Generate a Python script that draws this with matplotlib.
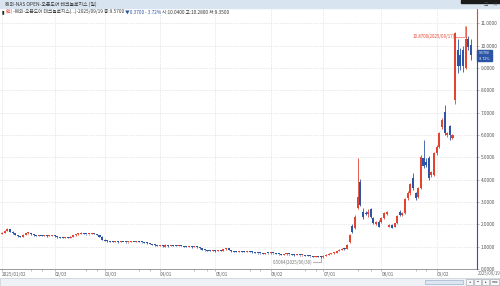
import numpy as np
import pandas as pd
import matplotlib
matplotlib.use("Agg")
import matplotlib.pyplot as plt
from matplotlib.patches import Rectangle

plt.rcParams['font.family'] = ['Noto Sans CJK KR', 'DejaVu Sans']

# trading days (NASDAQ), 2025/01/02 - 2025/09/19
holidays = ['2025-01-09', '2025-01-20', '2025-02-17', '2025-04-18',
            '2025-05-26', '2025-06-19', '2025-07-04', '2025-09-01']
dates = pd.bdate_range('2025-01-02', '2025-09-19')
dates = dates[~dates.isin(pd.to_datetime(holidays))]

opens = [
    # Jan
    1.58, 1.63, 1.70, 1.78, 1.66, 1.59, 1.52, 1.46, 1.45, 1.53,
    1.59, 1.62, 1.55, 1.50, 1.49, 1.51, 1.48, 1.50, 1.47, 1.49,
    # Feb
    1.50, 1.46, 1.43, 1.41, 1.40, 1.42, 1.40, 1.44, 1.50, 1.55,
    1.58, 1.62, 1.57, 1.55, 1.56, 1.60, 1.57, 1.52, 1.45,
    # Mar
    1.32, 1.26, 1.24, 1.22, 1.21, 1.23, 1.20, 1.22, 1.21, 1.19,
    1.20, 1.22, 1.21, 1.23, 1.22, 1.20, 1.18, 1.16, 1.12, 1.08, 1.06,
    # Apr
    1.04, 1.05, 1.00, 1.08, 1.02, 1.06, 1.05, 1.04, 1.06, 1.02,
    1.00, 0.99, 1.01, 0.98, 1.00, 0.97, 0.93, 0.86, 0.83, 0.82, 0.81,
    # May
    0.82, 0.80, 0.83, 0.81, 0.88, 0.92, 0.84, 0.79, 0.78, 0.77,
    0.79, 0.78, 0.77, 0.80, 0.78, 0.75, 0.72, 0.71, 0.70, 0.69, 0.71,
    # Jun
    0.70, 0.72, 0.70, 0.68, 0.66, 0.63, 0.65, 0.68, 0.66, 0.64,
    0.62, 0.63, 0.61, 0.62, 0.60, 0.58, 0.56, 0.55, 0.57, 0.55,
    # Jul
    0.52, 0.60, 0.64, 0.68, 0.70, 0.72, 0.80, 0.86, 0.92, 0.90,
    1.22, 1.93, 1.85, 2.72, 3.91, 2.57, 2.52, 2.45, 2.67, 2.27, 2.00, 2.12,
    # Aug
    2.10, 2.30, 2.47, 1.90, 1.97, 1.90, 2.05, 2.55, 2.42, 2.49,
    3.17, 3.39, 4.06, 3.39, 3.24, 3.61, 4.96, 4.80, 4.96, 4.20, 4.21,
    # Sep
    5.18, 5.48, 6.37, 7.05, 6.00, 6.38, 5.85, 7.58, 9.82, 9.60,
    9.80, 9.00, 10.30, 10.04,
]
highs = [
    1.66, 1.74, 1.82, 1.79, 1.68, 1.61, 1.54, 1.49, 1.55, 1.62,
    1.66, 1.63, 1.56, 1.52, 1.53, 1.52, 1.52, 1.51, 1.51, 1.52,
    1.51, 1.47, 1.45, 1.43, 1.44, 1.43, 1.46, 1.52, 1.57, 1.60,
    1.65, 1.63, 1.58, 1.58, 1.62, 1.61, 1.58, 1.53, 1.46,
    1.33, 1.28, 1.26, 1.24, 1.25, 1.24, 1.24, 1.23, 1.22, 1.22,
    1.24, 1.23, 1.25, 1.24, 1.23, 1.21, 1.19, 1.17, 1.13, 1.10, 1.07,
    1.07, 1.06, 1.10, 1.09, 1.08, 1.07, 1.06, 1.08, 1.07, 1.03,
    1.01, 1.03, 1.02, 1.02, 1.01, 0.98, 0.94, 0.87, 0.85, 0.83, 0.84,
    0.83, 0.85, 0.84, 0.90, 0.95, 0.93, 0.85, 0.80, 0.79, 0.81,
    0.80, 0.79, 0.82, 0.81, 0.79, 0.76, 0.73, 0.72, 0.71, 0.73, 0.72,
    0.74, 0.73, 0.71, 0.69, 0.67, 0.67, 0.70, 0.69, 0.67, 0.65,
    0.65, 0.64, 0.64, 0.63, 0.61, 0.59, 0.57, 0.59, 0.58, 0.56,
    0.62, 0.66, 0.70, 0.72, 0.74, 0.82, 0.89, 0.93, 0.94, 1.10,
    1.58, 2.00, 2.40, 4.96, 4.05, 2.75, 2.60, 2.70, 2.75, 2.32, 2.15, 2.18,
    2.35, 2.55, 2.60, 2.02, 2.00, 2.08, 2.42, 2.62, 2.55, 3.20,
    3.50, 3.85, 4.30, 3.45, 3.68, 5.10, 5.78, 4.95, 5.05, 4.40, 5.25,
    5.55, 6.12, 6.75, 7.35, 6.15, 6.45, 6.05, 10.60, 10.30, 9.90,
    10.00, 10.87, 10.45, 10.28,
]
lows = [
    1.55, 1.61, 1.68, 1.64, 1.57, 1.50, 1.44, 1.42, 1.44, 1.51,
    1.56, 1.53, 1.48, 1.46, 1.47, 1.46, 1.47, 1.45, 1.46, 1.47,
    1.44, 1.41, 1.39, 1.38, 1.39, 1.38, 1.39, 1.43, 1.49, 1.53,
    1.56, 1.55, 1.52, 1.53, 1.55, 1.55, 1.50, 1.43, 1.30,
    1.24, 1.22, 1.20, 1.19, 1.20, 1.18, 1.19, 1.19, 1.17, 1.18,
    1.19, 1.19, 1.20, 1.20, 1.18, 1.16, 1.14, 1.10, 1.06, 1.04, 1.02,
    1.02, 1.00, 0.98, 1.00, 1.01, 1.03, 1.02, 1.03, 1.01, 0.98,
    0.97, 0.98, 0.96, 0.97, 0.95, 0.91, 0.85, 0.81, 0.80, 0.79, 0.80,
    0.78, 0.79, 0.79, 0.80, 0.87, 0.83, 0.78, 0.76, 0.75, 0.76,
    0.76, 0.75, 0.76, 0.76, 0.73, 0.70, 0.69, 0.68, 0.67, 0.68, 0.68,
    0.69, 0.68, 0.66, 0.64, 0.61, 0.62, 0.64, 0.64, 0.62, 0.60,
    0.61, 0.59, 0.60, 0.58, 0.56, 0.55, 0.53, 0.54, 0.53, 0.5064,
    0.51, 0.59, 0.63, 0.66, 0.68, 0.71, 0.79, 0.84, 0.85, 0.89,
    1.18, 1.60, 1.80, 2.68, 2.80, 2.25, 2.40, 2.35, 2.30, 2.02, 1.96, 1.86,
    2.05, 2.25, 2.42, 1.86, 1.82, 1.88, 2.02, 2.36, 2.38, 2.45,
    3.10, 3.30, 3.55, 3.10, 3.20, 3.58, 4.50, 4.55, 4.00, 4.10, 4.15,
    5.10, 5.40, 6.25, 6.00, 5.90, 5.78, 5.80, 7.40, 8.77, 8.90,
    8.80, 8.95, 9.80, 9.35,
]
closes = [
    1.63, 1.70, 1.78, 1.66, 1.59, 1.52, 1.46, 1.45, 1.53, 1.59,
    1.62, 1.55, 1.50, 1.49, 1.51, 1.48, 1.50, 1.47, 1.49, 1.50,
    1.46, 1.43, 1.41, 1.40, 1.42, 1.40, 1.44, 1.50, 1.55, 1.58,
    1.62, 1.57, 1.55, 1.56, 1.60, 1.57, 1.52, 1.45, 1.32,
    1.26, 1.24, 1.22, 1.21, 1.23, 1.20, 1.22, 1.21, 1.19, 1.20,
    1.22, 1.21, 1.23, 1.22, 1.20, 1.18, 1.16, 1.12, 1.08, 1.06, 1.04,
    1.05, 1.03, 1.08, 1.02, 1.06, 1.05, 1.04, 1.06, 1.02, 1.00,
    0.99, 1.01, 0.98, 1.00, 0.97, 0.93, 0.86, 0.83, 0.82, 0.81, 0.82,
    0.80, 0.83, 0.81, 0.88, 0.92, 0.84, 0.79, 0.78, 0.77, 0.79,
    0.78, 0.77, 0.80, 0.78, 0.75, 0.72, 0.71, 0.70, 0.69, 0.71, 0.70,
    0.72, 0.70, 0.68, 0.66, 0.63, 0.65, 0.68, 0.66, 0.64, 0.62,
    0.63, 0.61, 0.62, 0.60, 0.58, 0.56, 0.55, 0.57, 0.55, 0.52,
    0.60, 0.64, 0.68, 0.70, 0.72, 0.80, 0.86, 0.90, 0.88, 1.07,
    1.52, 1.67, 2.34, 3.24, 2.87, 2.34, 2.46, 2.55, 2.34, 2.07, 2.10, 1.90,
    2.30, 2.49, 2.56, 1.97, 1.85, 2.05, 2.37, 2.40, 2.50, 3.12,
    3.42, 3.79, 3.61, 3.17, 3.61, 5.03, 4.59, 4.65, 4.07, 4.35, 5.18,
    5.48, 6.07, 6.67, 6.07, 6.10, 6.00, 6.00, 10.57, 9.07, 9.10,
    9.10, 10.30, 9.94, 9.57,
]

ytick_values = list(range(0, 12))
tick_dates = ['2025-01-02', '2025-02-03', '2025-03-03', '2025-04-01', '2025-05-01',
              '2025-06-02', '2025-07-01', '2025-08-01', '2025-09-02']
tick_labels = ['2025/01/02', '02/03', '03/03', '04/01', '05/01',
               '06/02', '07/01', '08/01', '09/02']

RED = '#e3432f'
BLUE = '#2d55a5'
GRID = '#d4d4d4'

o = np.array(opens)
h = np.array(highs)
l = np.array(lows)
c = np.array(closes)
x = np.arange(len(dates))
colors = np.where(c >= o, RED, BLUE)

fig = plt.figure(figsize=(5, 2.86), dpi=100)
fig.patch.set_facecolor('white')
ax = fig.add_axes([0, 17 / 286, 477 / 500, 260 / 286])

# candles
ax.vlines(x, l, h, colors=colors, linewidth=0.6, zorder=3)
ax.bar(x, np.maximum(np.abs(c - o), 0.045), bottom=np.minimum(o, c),
       width=0.78, color=colors, linewidth=0, zorder=4)

ax.set_xlim(-0.76, 180.3)
ax.set_ylim(0, 11.64)

tick_pos = [dates.get_loc(pd.Timestamp(d)) for d in tick_dates]
ax.set_xticks(tick_pos)
ax.set_xticklabels(tick_labels, ha='left', fontsize=3.4, color='#666666')
ax.tick_params(axis='x', length=1.5, width=0.4, pad=1, color='#888888')

# minor ticks late in each month
minor = []
for m in range(1, 10):
    for d in (20, 26):
        ts = pd.Timestamp(2025, m, d)
        if ts <= dates[-1]:
            minor.append(int(np.searchsorted(dates, ts)))
ax.set_xticks(minor, minor=True)
ax.tick_params(axis='x', which='minor', length=1.2, width=0.4, color='#888888')

ax.yaxis.tick_right()
ax.set_yticks(ytick_values)
ax.set_yticklabels([f'{v:.4f}' for v in ytick_values], fontsize=3.4, color='#555555')
ax.tick_params(axis='y', length=1.5, width=0.4, pad=1, color='#888888')

for p in tick_pos:
    ax.axvline(p, color=GRID, linewidth=0.5, linestyle=(0, (1, 1.5)), zorder=1)
for v in ytick_values[1:]:
    ax.axhline(v, color=GRID, linewidth=0.5, linestyle=(0, (1, 1.5)), zorder=1)

for s in ['top', 'left', 'right']:
    ax.spines[s].set_visible(False)
ax.spines['bottom'].set_color('#9a9a9a')
ax.spines['bottom'].set_linewidth(0.7)

# right axis line: red above last close, blue below
xr = ax.get_xlim()[1]
ax.plot([xr, xr], [closes[-1], 11.64], color=RED, linewidth=0.8, clip_on=False, zorder=5)
ax.plot([xr, xr], [0, closes[-1]], color=BLUE, linewidth=0.8, clip_on=False, zorder=5)

# max / min labels
imax = int(np.argmax(h))
imin = int(np.argmin(l))
ax.text(imax - 4.2, 10.4, f'{h[imax]:.4f}({dates[imax]:%Y/%m/%d})', fontsize=3.2,
        color=RED, ha='right', va='center', zorder=6)
ax.plot([imax - 4.0, imax - 0.4, imax - 0.4], [10.4, 10.4, h[imax]], color=RED,
        linewidth=0.4, zorder=6)
ax.text(imin - 3.0, 0.3, f'{l[imin]:.4f}({dates[imin]:%Y/%m/%d})', fontsize=3.2,
        color='#777777', ha='right', va='center', zorder=6)
ax.plot([imin - 2.8, imin, imin], [0.3, 0.3, l[imin]], color='#777777',
        linewidth=0.4, zorder=6)

# last date under the price axis
fig.text(477.5 / 500, 1 - 273 / 286, dates[-1].strftime('%Y/%m/%d'), fontsize=3.1,
         color='#666666', va='center', ha='left')

# current price box
fig.patches.append(Rectangle((477 / 500, 1 - 61 / 286), 15 / 500, 11 / 286,
                             transform=fig.transFigure, color=BLUE, zorder=10))
fig.text(484.5 / 500, 1 - 53.5 / 286, f'{closes[-1]:.4f}', fontsize=2.6, color='white',
         ha='center', va='center', zorder=11)
fig.text(484.5 / 500, 1 - 58.5 / 286, '-3.72%', fontsize=2.6, color='white',
         ha='center', va='center', zorder=11)

# title bar
fig.patches.append(Rectangle((0, 1 - 8 / 286), 1, 8 / 286, transform=fig.transFigure,
                             color='#d9e4f1', zorder=0))
fig.patches.append(Rectangle((461 / 500, 1 - 3 / 286), 39 / 500, 3 / 286,
                             transform=fig.transFigure, color='#1b1b1b', zorder=1))
fig.text(5 / 500, 1 - 4.5 / 286, '해외-NAS OPEN-오픈도어 테크놀로지스 (일)', fontsize=3.5,
         color='#333333', va='center', ha='left')
fig.text(484 / 500, 1 - 5 / 286, '□', fontsize=3.2, color='#444444', va='center', ha='left')
fig.text(492 / 500, 1 - 5 / 286, '×', fontsize=3.6, color='#444444', va='center', ha='left')

# info line (pieces chained one after another)
pieces = [('▮ ', '#222222'), ('(연)', RED),
          ('-해외-오픈도어 테크놀로지스(...)-2025/09/19 종:9.5700 ', '#333333'),
          ('▼0.3700 - 3.72%', BLUE),
          (' 시:10.0400 고:10.2800 저:9.3500', '#333333')]
prev = fig.text(2 / 500, 1 - 14.5 / 286, pieces[0][0], fontsize=3.4, color=pieces[0][1],
                va='bottom', ha='left')
for txt, col in pieces[1:]:
    prev = ax.annotate(txt, xy=(1, 0), xycoords=prev, fontsize=3.4, color=col,
                       va='bottom', ha='left')

# scroll bar at the bottom
fig.patches.append(Rectangle((0, 0), 1, 8 / 286, transform=fig.transFigure,
                             facecolor='#eef1f5', edgecolor='#c9cdd3', linewidth=0.5, zorder=0))
fig.patches.append(Rectangle((425 / 500, 2 / 286), 38 / 500, 4 / 286, transform=fig.transFigure,
                             facecolor='#dde7f4', edgecolor='#8ea4c4', linewidth=0.4, zorder=1))
for bx, sym in [(466, '◂'), (474, '−'), (482, '▸'), (490, 'max')]:
    w = 9 if sym == 'max' else 7
    fig.patches.append(Rectangle((bx / 500, 1 / 286), w / 500, 6 / 286, transform=fig.transFigure,
                                 facecolor='#f7f8fa', edgecolor='#9aa0a8', linewidth=0.4, zorder=1))
    fig.text((bx + w / 2) / 500, 4 / 286, sym, fontsize=2.4, color='#333333',
             ha='center', va='center', zorder=2)

fig.savefig('out.png', dpi=100)
